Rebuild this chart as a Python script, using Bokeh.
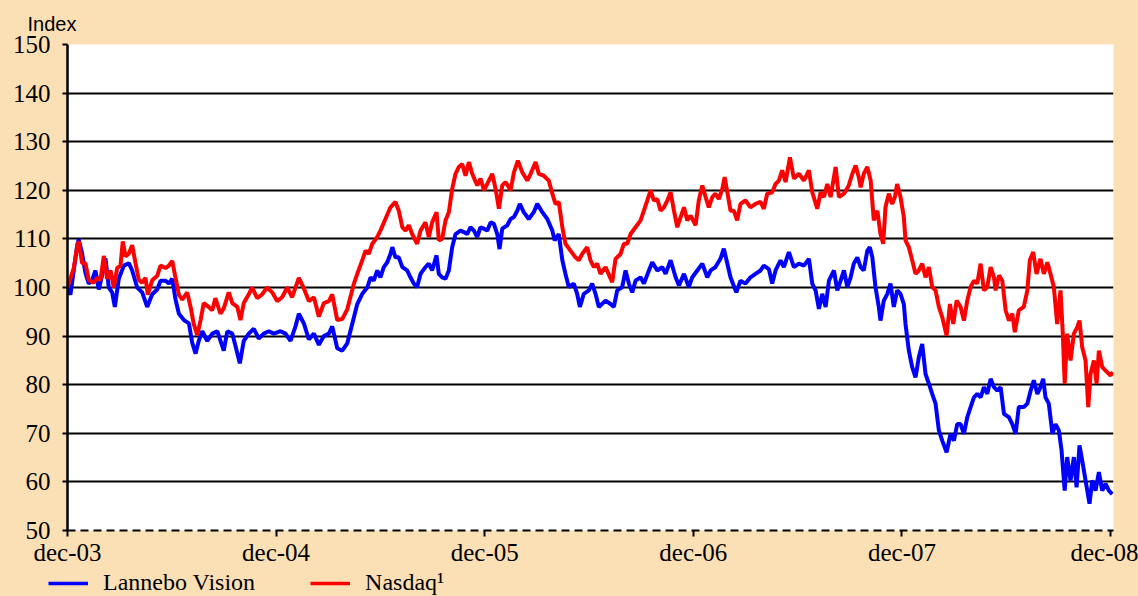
from bokeh.plotting import figure
from bokeh.layouts import column, row
from bokeh.models import (Range1d, FixedTicker, Legend, LegendItem,
                          GlobalInlineStyleSheet)
from bokeh.embed import file_html
from bokeh.resources import INLINE

# ---------------- data (x = years since Dec 2003) ----------------
tick_positions = [0, 1, 2, 3, 4, 5]
tick_labels = ["dec-03", "dec-04", "dec-05", "dec-06", "dec-07", "dec-08"]
y_ticks = [50, 60, 70, 80, 90, 100, 110, 120, 130, 140, 150]
series_names = ["Lannebo Vision", "Nasdaq\u00b9"]

vision_t = [0.000, 0.014, 0.030, 0.047, 0.054, 0.070, 0.086, 0.102, 0.118, 0.134, 0.150, 0.166, 0.182, 0.198,
            0.214, 0.227, 0.246, 0.270, 0.294, 0.310, 0.334, 0.358, 0.382, 0.406, 0.430, 0.446, 0.470, 0.486,
            0.502, 0.518, 0.534, 0.558, 0.582, 0.598, 0.614, 0.629, 0.646, 0.670, 0.694, 0.718, 0.749, 0.766,
            0.790, 0.805, 0.826, 0.845, 0.869, 0.893, 0.917, 0.941, 0.965, 0.989, 1.021, 1.045, 1.069, 1.093,
            1.109, 1.133, 1.157, 1.181, 1.205, 1.229, 1.253, 1.269, 1.293, 1.317, 1.341, 1.373, 1.389, 1.413,
            1.437, 1.453, 1.468, 1.485, 1.500, 1.516, 1.533, 1.548, 1.557, 1.572, 1.588, 1.605, 1.628, 1.644,
            1.660, 1.676, 1.692, 1.716, 1.732, 1.748, 1.769, 1.780, 1.796, 1.812, 1.828, 1.844, 1.860, 1.884,
            1.900, 1.916, 1.932, 1.948, 1.964, 1.980, 1.996, 2.012, 2.028, 2.044, 2.060, 2.071, 2.084, 2.108,
            2.124, 2.140, 2.156, 2.168, 2.187, 2.211, 2.235, 2.252, 2.276, 2.300, 2.324, 2.335, 2.355, 2.372,
            2.387, 2.403, 2.427, 2.443, 2.456, 2.475, 2.499, 2.515, 2.531, 2.547, 2.579, 2.603, 2.619, 2.635,
            2.659, 2.675, 2.691, 2.707, 2.723, 2.747, 2.763, 2.787, 2.803, 2.827, 2.851, 2.867, 2.891, 2.915,
            2.931, 2.955, 2.978, 2.995, 3.019, 3.043, 3.067, 3.083, 3.106, 3.130, 3.146, 3.163, 3.178, 3.206,
            3.226, 3.250, 3.274, 3.298, 3.322, 3.338, 3.362, 3.378, 3.394, 3.418, 3.434, 3.458, 3.482, 3.506,
            3.530, 3.554, 3.570, 3.586, 3.602, 3.618, 3.634, 3.650, 3.674, 3.690, 3.706, 3.722, 3.738, 3.754,
            3.769, 3.786, 3.802, 3.817, 3.834, 3.846, 3.858, 3.873, 3.889, 3.897, 3.913, 3.930, 3.945, 3.961,
            3.977, 3.993, 4.009, 4.017, 4.033, 4.049, 4.065, 4.081, 4.097, 4.113, 4.129, 4.145, 4.161, 4.177,
            4.193, 4.214, 4.233, 4.249, 4.265, 4.281, 4.297, 4.313, 4.329, 4.345, 4.361, 4.377, 4.393, 4.409,
            4.425, 4.441, 4.457, 4.473, 4.489, 4.513, 4.529, 4.545, 4.560, 4.584, 4.601, 4.617, 4.632, 4.649,
            4.664, 4.677, 4.688, 4.704, 4.721, 4.736, 4.752, 4.765, 4.780, 4.792, 4.808, 4.824, 4.837, 4.851,
            4.864, 4.880, 4.899, 4.912, 4.928, 4.944, 4.960, 4.976, 4.992, 5.008]
vision_v = [100, 98.5, 103.5, 108.8, 109.9, 107, 103, 100.8, 101.5, 103.5, 99.6, 102.5, 106, 100,
            99, 96, 101.8, 104.5, 105, 103.5, 100, 99, 96, 98.6, 99.6, 101.4, 101.4, 100.8,
            101.8, 97.5, 94.6, 93.3, 92.6, 88.6, 86.4, 89, 91, 89, 90.5, 91, 87, 91,
            90.5, 88, 84.4, 89, 90.5, 91.5, 89.5, 90.5, 91, 90.5, 91, 90.5, 89, 92,
            94.6, 92.6, 89.3, 90.5, 88.2, 90, 90.5, 92, 87.5, 87, 88.5, 93.9, 96.6, 98.7,
            100, 102.1, 101.4, 103.5, 102.1, 104.2, 105.2, 106.9, 108.3, 106.2, 106.2, 104.2, 103.5, 102.1,
            100.8, 100.1, 102.8, 104.2, 104.9, 103.5, 106.6, 102.8, 102.1, 101.8, 103.5, 108.3, 111, 111.7,
            111.4, 111, 112.4, 111.7, 110.4, 112.4, 112.1, 111.7, 113.4, 113.1, 111, 107.9, 112.1, 112.8,
            114.1, 114.5, 115.8, 117.2, 115.5, 114.1, 115.5, 117.2, 115.5, 114.1, 111.7, 109.7, 111, 105.6,
            102.8, 100.1, 100.8, 98.7, 96, 98.7, 99.4, 100.8, 98.7, 96, 97.3, 96.6, 96, 99.4,
            100.1, 103.5, 100.8, 99, 101.4, 102.1, 100.8, 103.5, 105.2, 103.5, 104.2, 102.8, 105.6, 102.1,
            100.4, 102.8, 100.1, 102.1, 103.5, 104.9, 102.1, 103.5, 104.2, 105.9, 108, 104.9, 102.1, 99,
            101.4, 100.8, 102.1, 102.8, 103.5, 104.5, 103.8, 100.8, 103.5, 105.6, 104.2, 107.3, 104.2, 104.9,
            104.5, 105.9, 100.8, 99.4, 95.6, 98.7, 96, 101.4, 103.5, 99.4, 101.4, 103.5, 100.1, 102.1,
            104.9, 106.2, 104.2, 103.5, 107.6, 108.3, 106.2, 100.1, 96, 93.2, 97.3, 98.7, 100.8, 96,
            99.4, 98.7, 96.6, 92.5, 87, 83.6, 81.5, 85.7, 88.4, 82.2, 80.2, 78.1, 76.1, 70.6,
            68.5, 66.1, 69.9, 68.5, 71.9, 71.9, 69.9, 73.3, 75.4, 77.4, 78.1, 77.4, 79.5, 78.1,
            81.2, 79.5, 78.8, 79.5, 74, 73.3, 71.9, 69.9, 75.4, 75.4, 76.1, 78.8, 80.9, 78.1,
            79.5, 81.2, 77.4, 76.1, 69.9, 71.9, 70.6, 66.5, 58.2, 65.1, 60.3, 65.1, 58.9, 67.5,
            64.4, 60.3, 55.5, 60.3, 58.2, 62, 58.2, 59.6, 58.2, 57.5]

nasdaq_t = [0.000, 0.030, 0.047, 0.054, 0.070, 0.086, 0.102, 0.126, 0.142, 0.158, 0.174, 0.190, 0.206, 0.222,
            0.238, 0.254, 0.265, 0.278, 0.294, 0.310, 0.326, 0.342, 0.358, 0.374, 0.385, 0.406, 0.430, 0.446,
            0.470, 0.486, 0.502, 0.518, 0.534, 0.550, 0.574, 0.590, 0.605, 0.622, 0.638, 0.653, 0.677, 0.694,
            0.709, 0.733, 0.749, 0.773, 0.790, 0.814, 0.829, 0.845, 0.869, 0.885, 0.909, 0.933, 0.957, 0.981,
            1.005, 1.029, 1.053, 1.077, 1.109, 1.133, 1.157, 1.181, 1.205, 1.229, 1.253, 1.269, 1.293, 1.317,
            1.341, 1.373, 1.389, 1.413, 1.429, 1.444, 1.461, 1.485, 1.500, 1.524, 1.548, 1.572, 1.588, 1.605,
            1.620, 1.636, 1.652, 1.676, 1.692, 1.716, 1.732, 1.748, 1.769, 1.780, 1.796, 1.812, 1.828, 1.844,
            1.860, 1.876, 1.892, 1.908, 1.924, 1.940, 1.964, 1.980, 1.996, 2.012, 2.036, 2.052, 2.068, 2.084,
            2.100, 2.124, 2.140, 2.159, 2.180, 2.204, 2.220, 2.244, 2.259, 2.283, 2.307, 2.324, 2.339, 2.355,
            2.372, 2.387, 2.411, 2.435, 2.451, 2.467, 2.491, 2.507, 2.523, 2.539, 2.555, 2.579, 2.611, 2.627,
            2.651, 2.667, 2.683, 2.699, 2.723, 2.747, 2.763, 2.779, 2.795, 2.811, 2.827, 2.843, 2.859, 2.875,
            2.891, 2.907, 2.923, 2.939, 2.955, 2.971, 2.987, 3.011, 3.026, 3.043, 3.059, 3.074, 3.091, 3.106,
            3.122, 3.139, 3.150, 3.163, 3.178, 3.194, 3.210, 3.226, 3.250, 3.274, 3.298, 3.322, 3.338, 3.354,
            3.378, 3.394, 3.410, 3.426, 3.442, 3.463, 3.482, 3.506, 3.530, 3.554, 3.570, 3.594, 3.610, 3.626,
            3.642, 3.658, 3.682, 3.698, 3.722, 3.745, 3.762, 3.778, 3.793, 3.802, 3.817, 3.834, 3.850, 3.865,
            3.882, 3.897, 3.910, 3.921, 3.937, 3.953, 3.966, 3.977, 3.993, 4.009, 4.017, 4.033, 4.049, 4.065,
            4.081, 4.097, 4.113, 4.129, 4.145, 4.161, 4.177, 4.193, 4.214, 4.230, 4.246, 4.262, 4.281, 4.297,
            4.313, 4.329, 4.345, 4.361, 4.377, 4.393, 4.409, 4.425, 4.441, 4.449, 4.465, 4.481, 4.497, 4.513,
            4.529, 4.541, 4.560, 4.584, 4.601, 4.613, 4.629, 4.645, 4.664, 4.680, 4.697, 4.712, 4.728, 4.744,
            4.760, 4.771, 4.780, 4.792, 4.808, 4.824, 4.840, 4.851, 4.864, 4.880, 4.893, 4.904, 4.920, 4.933,
            4.944, 4.960, 4.976, 5.000, 5.011]
nasdaq_v = [100, 104, 108.6, 109.5, 105, 105, 101.5, 101, 102, 101.5, 106.5, 101.8, 103.5, 100,
            104, 104.5, 109.5, 106.4, 107, 108.7, 105, 101.5, 101, 102, 98.5, 101.5, 102.4, 104.5,
            104, 104.5, 105.5, 102, 98.5, 97.5, 99, 96, 92.5, 90.2, 93.3, 96.8, 96, 95.3,
            97.8, 94.6, 95.7, 99, 96.8, 96, 93.3, 96.8, 98.6, 100, 97.8, 98.6, 100, 99,
            97.2, 98, 100, 98, 102, 99.8, 97.2, 98, 94, 96.8, 97.2, 98.6, 93.3, 93.5,
            95.5, 100.8, 102.8, 105.6, 107.6, 106.9, 109, 110.4, 111.7, 114.1, 116.5, 117.6, 115.8, 112.4,
            111.7, 112.8, 111, 109, 111.7, 113.4, 110.4, 113.4, 115.5, 109.7, 110, 113.8, 115.5, 120.3,
            123.4, 124.8, 125.4, 123, 125.8, 123.4, 121, 122.4, 120, 121.3, 123.4, 120.3, 116.2, 121,
            121.7, 120, 123.7, 126.1, 123.7, 122, 123.4, 125.8, 123.4, 123, 122, 119.3, 117.2, 117.6,
            112.4, 109, 107.6, 106.2, 105.6, 106.9, 108.3, 105.6, 104.2, 104.9, 102.8, 104.2, 101.1, 105.9,
            106.9, 109, 109, 111, 112.4, 113.8, 115.8, 117.9, 120, 117.9, 118.2, 115.8, 116.5, 117.9,
            119.6, 115.8, 112.4, 114.5, 116.5, 113.8, 114.8, 112.8, 117.9, 121, 118.6, 116.5, 118.6, 119.3,
            118.2, 120.3, 122.7, 119.6, 115.8, 115.8, 113.8, 117.2, 117.9, 116.5, 117.2, 117.6, 116.2, 119.3,
            119.6, 121.3, 122, 124.1, 121.7, 126.8, 122.4, 123.4, 122, 124.1, 119.6, 116.2, 119.6, 118.6,
            121.3, 118.6, 124.8, 118.6, 119.3, 121, 123.4, 125.1, 122.7, 120.6, 123.4, 124.8, 122, 113.8,
            115.8, 111, 109, 116.5, 119.3, 117.2, 118.6, 121.3, 118.6, 114.5, 109.7, 108.3, 105.6, 102.8,
            103.5, 104.9, 102.1, 104.2, 100.1, 99.4, 96, 93.9, 90.1, 96.6, 92.5, 97.3, 96, 93.2,
            97.3, 100.1, 101.4, 100.8, 104.9, 99.4, 100.1, 104.2, 102.1, 99.4, 102.5, 101.4, 95.3, 93.2,
            94.6, 90.8, 95.3, 96, 99.4, 105.6, 107.3, 102.8, 105.9, 102.8, 105.2, 102.8, 100.1, 92.5,
            99.4, 90.5, 80.2, 90.5, 85, 90.5, 91.8, 93.2, 87.7, 85, 75.4, 82.2, 85, 80.2,
            87, 83.6, 82.9, 81.9, 82.6]

# ---------------- styling ----------------
BG = "#FCE0B5"
SERIF = "Liberation Serif"
COLORS = ["#0000FF", "#FF0000"]

p = figure(width=1138, height=570, output_backend="svg", toolbar_location=None,
           x_range=Range1d(0, 5.014), y_range=Range1d(50, 150),
           min_border_left=67, min_border_right=25, min_border_top=44, min_border_bottom=40)
p.border_fill_color = BG
p.background_fill_color = "white"
p.outline_line_color = None
p.stylesheets = [GlobalInlineStyleSheet(css="html, body { background-color: #FCE0B5; }")]

# title used as the "Index" caption above the value axis
p.title.text = "Index"
p.title.align = "left"
p.title.text_font = "Liberation Sans"
p.title.text_font_size = "20px"
p.title.text_font_style = "normal"
p.title.text_color = "black"
p.title.offset = -40
p.title.standoff = 19

p.line(vision_t, vision_v, line_color=COLORS[0], line_width=4)
p.line(nasdaq_t, nasdaq_v, line_color=COLORS[1], line_width=4)

# x axis
xa = p.xaxis[0]
xa.ticker = FixedTicker(ticks=tick_positions)
xa.major_label_overrides = {t: l for t, l in zip(tick_positions, tick_labels)}
xa.axis_line_color = "black"
xa.axis_line_width = 2
xa.axis_line_dash = "8 5"
xa.major_tick_out = 6
xa.major_tick_in = 0
xa.major_tick_line_width = 2
xa.minor_tick_line_color = None
xa.major_label_text_font = SERIF
xa.major_label_text_font_size = "25px"
xa.major_label_text_color = "black"
xa.major_label_standoff = 2

# y axis
ya = p.yaxis[0]
ya.ticker = FixedTicker(ticks=y_ticks)
ya.axis_line_color = "black"
ya.axis_line_width = 2.5
ya.major_tick_out = 5
ya.major_tick_in = 0
ya.major_tick_line_width = 2
ya.minor_tick_line_color = None
ya.major_label_text_font = SERIF
ya.major_label_text_font_size = "25px"
ya.major_label_text_color = "black"
ya.major_label_standoff = 12

# grid
p.xgrid.grid_line_color = None
p.ygrid.ticker = FixedTicker(ticks=y_ticks[1:])
p.ygrid.grid_line_color = "black"
p.ygrid.grid_line_width = 2
p.ygrid.grid_line_alpha = 1

# ---------------- legend strip below the chart ----------------
lg = figure(width=1138, height=26, output_backend="svg", toolbar_location=None,
            x_range=Range1d(0, 1), y_range=Range1d(0, 1),
            x_axis_type=None, y_axis_type=None,
            min_border=0, min_border_left=0, min_border_right=0,
            min_border_top=0, min_border_bottom=0)
lg.border_fill_color = BG
lg.background_fill_color = BG
lg.outline_line_color = None
lg.grid.visible = False
# key renderers carry a single NaN (nothing is drawn in the strip itself)
key_renderers = [lg.line([float("nan")], [float("nan")], line_color=c, line_width=3.5) for c in COLORS]

legend = Legend(items=[LegendItem(label=n, renderers=[r], index=0)
                       for n, r in zip(series_names, key_renderers)],
                orientation="horizontal", location=(48, 0),
                glyph_width=40, glyph_height=24, label_height=24,
                label_standoff=15, spacing=55, padding=0, margin=0,
                border_line_color=None, background_fill_alpha=0,
                label_text_font=SERIF, label_text_font_size="24px",
                label_text_color="black")
lg.add_layout(legend)

# the strip is wrapped in its own row so its frame is not aligned with the chart's frame
open("out.html", "w").write(file_html(column(p, row(lg, spacing=0), spacing=0), INLINE))
